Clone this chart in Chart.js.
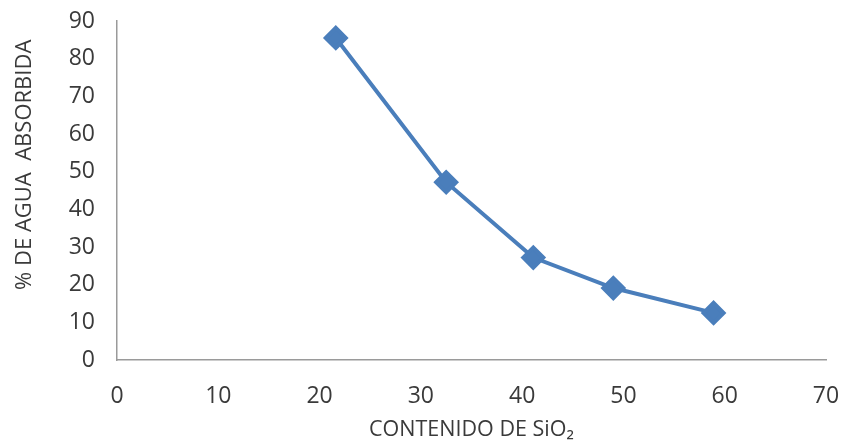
<!DOCTYPE html>
<html>
<head>
<meta charset="utf-8">
<script src="https://cdn.jsdelivr.net/npm/chart.js@4"></script>
<style>
  html, body { margin: 0; padding: 0; background: #fff; }
  #wrap { width: 846px; height: 447px; }
</style>
</head>
<body>
<div id="wrap"><canvas id="lineChart" width="846" height="447"></canvas></div>
<script>
const sio2Content = [21.6, 32.5, 41.1, 49.0, 58.9];
const waterAbsorbed = [85.5, 47.2, 27.2, 19.1, 12.5];
const xTicks = [0, 10, 20, 30, 40, 50, 60, 70];
const yTicks = [0, 10, 20, 30, 40, 50, 60, 70, 80, 90];

document.addEventListener('DOMContentLoaded', function () {
    const points = sio2Content.map(function (x, i) {
        return { x: x, y: waterAbsorbed[i] };
    });

    const ctx = document.getElementById('lineChart').getContext('2d');
    const chart = new Chart(ctx, {
        type: 'scatter',
        data: {
            datasets: [{
                label: '% de agua absorbida',
                data: points,
                showLine: true,
                borderColor: '#4a7ebb',
                backgroundColor: '#4a7ebb',
                borderWidth: 4,
                pointStyle: 'rectRot',
                pointRadius: 10,
                pointHoverRadius: 10,
                tension: 0
            }]
        },
        options: {
            responsive: false,
            animation: false,
            layout: { padding: { top: 21, right: 20, left: 0, bottom: 0 } },
            plugins: {
                legend: { display: false },
                tooltip: { enabled: false }
            },
            scales: {
                x: {
                    type: 'linear',
                    min: xTicks[0],
                    max: xTicks[xTicks.length - 1],
                    afterBuildTicks: function (axis) {
                        axis.ticks = xTicks.map(function (v) { return { value: v }; });
                    },
                    afterFit: function (axis) {
                        axis.height = 87;
                        axis.paddingLeft = 0;
                        axis.paddingRight = 0;
                    },
                    grid: { display: false, drawTicks: false },
                    border: { color: '#9a9a9a', width: 1.5 },
                    ticks: {
                        color: '#3a3a3a',
                        font: { family: 'Open Sans', size: 23 },
                        padding: 23,
                        maxRotation: 0
                    },
                    title: {
                        display: true,
                        text: 'CONTENIDO DE SiO₂',
                        color: '#3a3a3a',
                        font: { family: 'Open Sans', size: 21.5 },
                        padding: { top: 0, bottom: 4 }
                    }
                },
                y: {
                    type: 'linear',
                    min: yTicks[0],
                    max: yTicks[yTicks.length - 1],
                    afterBuildTicks: function (axis) {
                        axis.ticks = yTicks.map(function (v) { return { value: v }; });
                    },
                    afterFit: function (axis) {
                        axis.width = 117;
                        axis.paddingTop = 0;
                        axis.paddingBottom = 0;
                    },
                    grid: { display: false, drawTicks: false },
                    border: { color: '#9a9a9a', width: 1.5 },
                    ticks: {
                        color: '#3a3a3a',
                        font: { family: 'Open Sans', size: 23 },
                        padding: 22
                    },
                    title: {
                        display: true,
                        // leading spaces lift the visible text a little, as in the original
                        text: '         % DE AGUA  ABSORBIDA',
                        color: '#3a3a3a',
                        font: { family: 'Open Sans', size: 22 },
                        padding: { top: 12, bottom: 0 }
                    }
                }
            }
        }
    });
});
</script>
</body>
</html>
